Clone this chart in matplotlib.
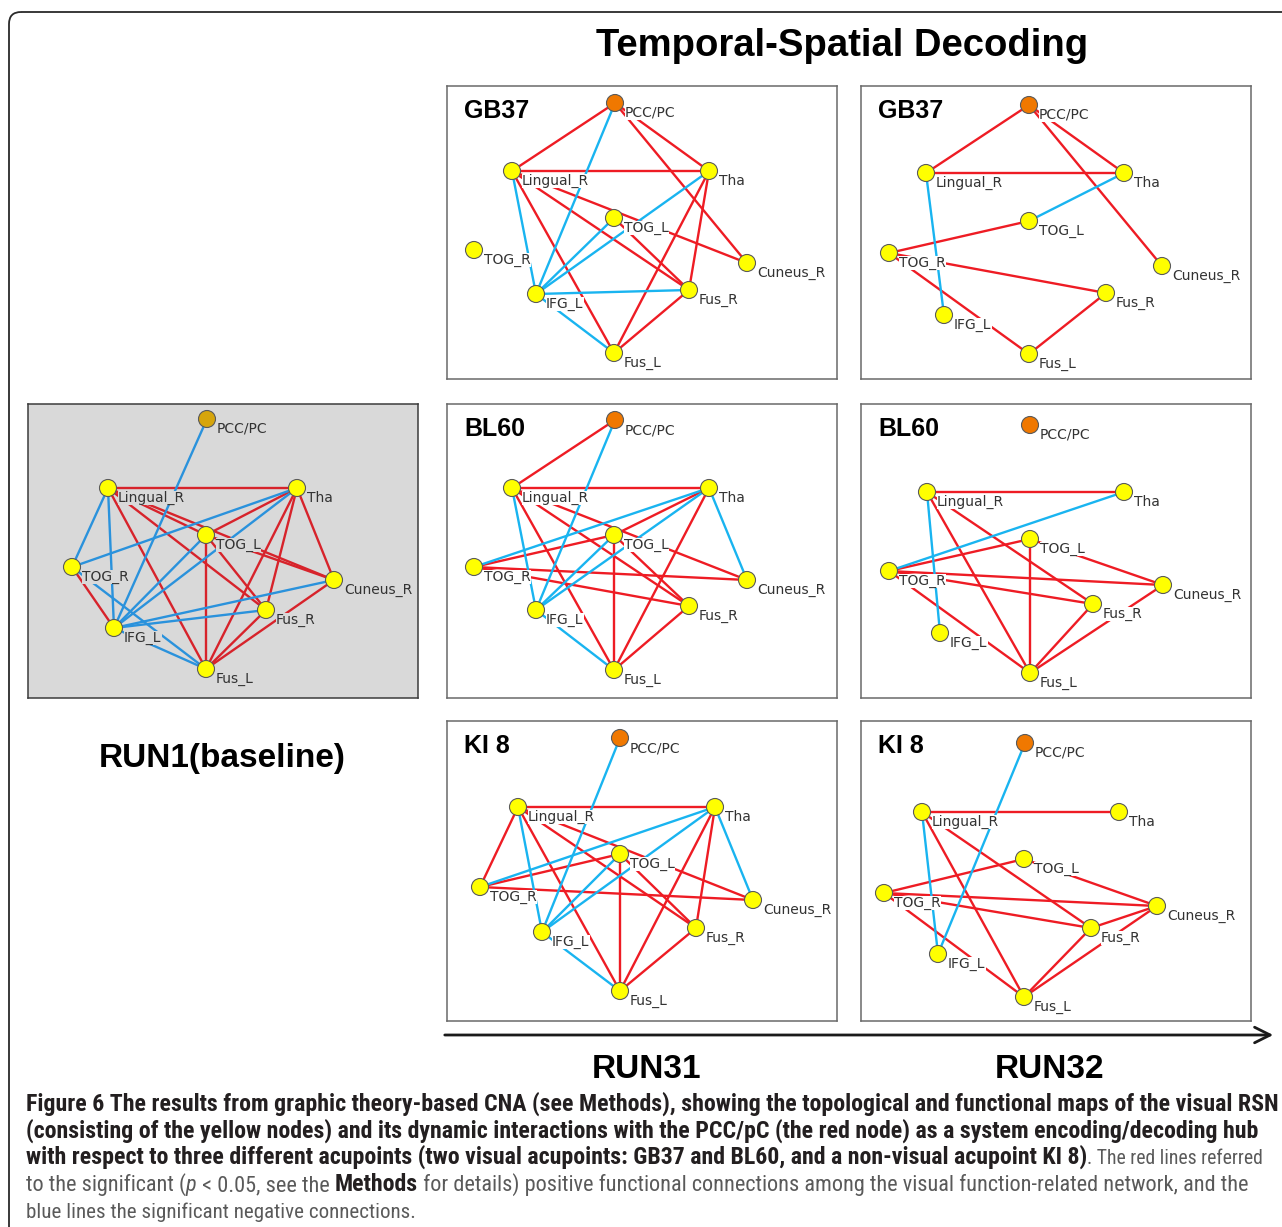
import matplotlib
matplotlib.use("Agg")
import matplotlib.pyplot as plt
from matplotlib import font_manager as fm
from matplotlib.patches import FancyBboxPatch

# ---------------- data ----------------
node_names = ["PCC/PC", "Lingual_R", "Tha", "TOG_L", "TOG_R", "Cuneus_R", "Fus_R", "IFG_L", "Fus_L"]

# node layouts (panel-local pixel coordinates, same order as node_names)
run1_x = [179, 80, 269, 178, 44, 306, 238, 86, 178]
run1_y = [15, 84, 84, 131, 163, 176, 206, 224, 265]
gb37_31_x = [168, 65, 262, 167, 27, 300, 242, 89, 167]
gb37_31_y = [17, 85, 85, 132, 164, 177, 204, 208, 267]
gb37_32_x = [168, 65, 263, 168, 28, 301, 245, 83, 168]
gb37_32_y = [19, 87, 87, 135, 167, 180, 207, 229, 268]
bl60_31_x = [168, 65, 262, 167, 27, 300, 242, 89, 167]
bl60_31_y = [16, 84, 84, 131, 163, 176, 202, 206, 266]
bl60_32_x = [169, 66, 263, 169, 28, 302, 232, 79, 169]
bl60_32_y = [21, 88, 88, 135, 167, 181, 200, 229, 269]
ki8_31_x = [173, 71, 268, 173, 33, 306, 249, 95, 173]
ki8_31_y = [17, 86, 86, 133, 166, 179, 207, 211, 270]
ki8_32_x = [164, 61, 258, 163, 23, 296, 230, 77, 163]
ki8_32_y = [22, 91, 91, 138, 172, 185, 207, 233, 276]

# positive (red) and negative (blue) connections
run1_pos = [("Lingual_R", "Tha"), ("Lingual_R", "Fus_L"), ("Lingual_R", "TOG_L"), ("Lingual_R", "Cuneus_R"),
            ("Lingual_R", "Fus_R"), ("Tha", "TOG_L"), ("Tha", "Fus_L"), ("Tha", "Fus_R"), ("Tha", "Cuneus_R"),
            ("TOG_L", "Fus_L"), ("TOG_L", "Fus_R"), ("TOG_L", "Cuneus_R"), ("TOG_R", "IFG_L"),
            ("Cuneus_R", "Fus_L"), ("Fus_R", "Fus_L")]
run1_neg = [("PCC/PC", "IFG_L"), ("Lingual_R", "TOG_R"), ("Lingual_R", "IFG_L"), ("Tha", "TOG_R"),
            ("Tha", "IFG_L"), ("TOG_L", "IFG_L"), ("TOG_R", "Fus_L"), ("IFG_L", "Fus_L"),
            ("IFG_L", "Cuneus_R"), ("IFG_L", "Fus_R")]
gb37_31_pos = [("PCC/PC", "Lingual_R"), ("PCC/PC", "Tha"), ("PCC/PC", "Cuneus_R"), ("Lingual_R", "Tha"),
               ("Lingual_R", "Fus_L"), ("Lingual_R", "Fus_R"), ("Lingual_R", "Cuneus_R"), ("TOG_L", "Fus_R"),
               ("Tha", "Fus_L"), ("Tha", "Fus_R"), ("Fus_R", "Fus_L")]
gb37_31_neg = [("PCC/PC", "IFG_L"), ("Lingual_R", "IFG_L"), ("Tha", "IFG_L"), ("TOG_L", "IFG_L"),
               ("IFG_L", "Fus_R"), ("IFG_L", "Fus_L")]
gb37_32_pos = [("PCC/PC", "Lingual_R"), ("PCC/PC", "Tha"), ("PCC/PC", "Cuneus_R"), ("Lingual_R", "Tha"),
               ("TOG_L", "TOG_R"), ("TOG_R", "Fus_R"), ("TOG_R", "Fus_L"), ("Fus_R", "Fus_L")]
gb37_32_neg = [("Lingual_R", "IFG_L"), ("Tha", "TOG_L")]
bl60_31_pos = [("PCC/PC", "Lingual_R"), ("Lingual_R", "Tha"), ("Lingual_R", "Fus_L"), ("Lingual_R", "Fus_R"),
               ("Lingual_R", "Cuneus_R"), ("TOG_L", "Fus_R"), ("Tha", "TOG_L"), ("TOG_R", "TOG_L"),
               ("Tha", "Fus_L"), ("TOG_L", "Fus_L"), ("TOG_R", "Cuneus_R"), ("TOG_R", "Fus_R"), ("Fus_R", "Fus_L")]
bl60_31_neg = [("PCC/PC", "IFG_L"), ("Lingual_R", "IFG_L"), ("Tha", "TOG_R"), ("Tha", "IFG_L"),
               ("TOG_L", "IFG_L"), ("Tha", "Cuneus_R"), ("IFG_L", "Fus_L")]
bl60_32_pos = [("Lingual_R", "Tha"), ("Lingual_R", "Fus_L"), ("Lingual_R", "Fus_R"), ("TOG_R", "TOG_L"),
               ("TOG_R", "Cuneus_R"), ("TOG_R", "Fus_R"), ("TOG_R", "Fus_L"), ("TOG_L", "Fus_L"),
               ("TOG_L", "Cuneus_R"), ("Cuneus_R", "Fus_L"), ("Fus_R", "Fus_L")]
bl60_32_neg = [("Lingual_R", "IFG_L"), ("Tha", "TOG_R")]
ki8_31_pos = [("Lingual_R", "Tha"), ("Lingual_R", "TOG_R"), ("Lingual_R", "Fus_L"), ("Lingual_R", "Fus_R"),
              ("Lingual_R", "Cuneus_R"), ("TOG_R", "TOG_L"), ("Tha", "Fus_L"), ("Tha", "Fus_R"),
              ("TOG_L", "Fus_L"), ("TOG_L", "Fus_R"), ("TOG_R", "Cuneus_R"), ("Fus_R", "Fus_L")]
ki8_31_neg = [("PCC/PC", "IFG_L"), ("Lingual_R", "IFG_L"), ("Tha", "TOG_R"), ("Tha", "IFG_L"),
              ("TOG_L", "IFG_L"), ("Tha", "Cuneus_R"), ("IFG_L", "Fus_L")]
ki8_32_pos = [("Lingual_R", "Tha"), ("Lingual_R", "Fus_L"), ("Lingual_R", "Fus_R"), ("TOG_R", "TOG_L"),
              ("TOG_R", "Cuneus_R"), ("TOG_R", "Fus_R"), ("TOG_R", "Fus_L"), ("TOG_L", "Cuneus_R"),
              ("Cuneus_R", "Fus_R"), ("Cuneus_R", "Fus_L"), ("Fus_R", "Fus_L")]
ki8_32_neg = [("PCC/PC", "IFG_L"), ("Lingual_R", "IFG_L")]

panel_titles = ["", "GB37", "GB37", "BL60", "BL60", "KI 8", "KI 8"]
title_text = "Temporal-Spatial Decoding"
run_labels = ["RUN1(baseline)", "RUN31", "RUN32"]

caption_lines = [
    [("Figure 6 The results from graphic theory-based CNA (see Methods), showing the topological and functional maps of the visual RSN", "b")],
    [("(consisting of the yellow nodes) and its dynamic interactions with the PCC/pC (the red node) as a system encoding/decoding hub", "b")],
    [("with respect to three different acupoints (two visual acupoints: GB37 and BL60, and a non-visual acupoint KI 8)", "b"),
     (". The red lines referred", "n")],
    [("to the significant (", "n"), ("p", "i"), (" < 0.05, see the ", "n"), ("Methods", "b"),
     (" for details) positive functional connections among the visual function-related network, and the", "n")],
    [("blue lines the significant negative connections.", "n")],
]
caption_line_ends = [1278, 1258, 1262, 1240, None]

# ---------------- figure ----------------
W, H = 1282, 1227
fig = plt.figure(figsize=(W / 100, H / 100), dpi=100)
fig.patch.set_facecolor("white")
bg = fig.add_axes([0, 0, 1, 1])
bg.set_xlim(0, W)
bg.set_ylim(H, 0)
bg.axis("off")

# outer rounded frame
frame = FancyBboxPatch((9, 12), 1400, 1400, boxstyle="round,pad=0,rounding_size=12",
                       fill=False, edgecolor="#2a2a2a", lw=1.3, clip_on=True)
bg.add_patch(frame)
frame.set_clip_path(bg.patch)

panels = [
    dict(box=(28, 404, 390, 294), x=run1_x, y=run1_y, pos=run1_pos, neg=run1_neg, baseline=True),
    dict(box=(447, 86, 390, 293), x=gb37_31_x, y=gb37_31_y, pos=gb37_31_pos, neg=gb37_31_neg, baseline=False),
    dict(box=(861, 86, 390, 293), x=gb37_32_x, y=gb37_32_y, pos=gb37_32_pos, neg=gb37_32_neg, baseline=False),
    dict(box=(447, 404, 390, 294), x=bl60_31_x, y=bl60_31_y, pos=bl60_31_pos, neg=bl60_31_neg, baseline=False),
    dict(box=(861, 404, 390, 294), x=bl60_32_x, y=bl60_32_y, pos=bl60_32_pos, neg=bl60_32_neg, baseline=False),
    dict(box=(447, 721, 390, 300), x=ki8_31_x, y=ki8_31_y, pos=ki8_31_pos, neg=ki8_31_neg, baseline=False),
    dict(box=(861, 721, 390, 300), x=ki8_32_x, y=ki8_32_y, pos=ki8_32_pos, neg=ki8_32_neg, baseline=False),
]

for p, ptitle in zip(panels, panel_titles):
    ox, oy, w, h = p["box"]
    ax = fig.add_axes([ox / W, 1 - (oy + h) / H, w / W, h / H])
    ax.set_xlim(0, w)
    ax.set_ylim(h, 0)
    ax.set_xticks([])
    ax.set_yticks([])
    base = p["baseline"]
    bgc = "#d9d9d9" if base else "white"
    ax.set_facecolor(bgc)
    for s in ax.spines.values():
        s.set_color("#3c3c3c" if base else "#6a6a6a")
        s.set_linewidth(1.1)
    red = "#d7232b" if base else "#ee1c24"
    blue = "#2a92dc" if base else "#19b4f0"
    idx = {n: i for i, n in enumerate(node_names)}
    for edges, col in ((p["pos"], red), (p["neg"], blue)):
        for a, b in edges:
            ia, ib = idx[a], idx[b]
            ax.plot([p["x"][ia], p["x"][ib]], [p["y"][ia], p["y"][ib]], color=col, lw=1.7,
                    solid_capstyle="butt", zorder=1)
    for i, n in enumerate(node_names):
        ax.text(p["x"][i] + 10, p["y"][i] + 10, n, fontsize=10, family="DejaVu Sans",
                color="#333333", ha="left", va="center", zorder=2,
                bbox=dict(facecolor=bgc, edgecolor="none", pad=0.3))
    colors = [("#d6a50c" if base else "#f07800")] + ["#ffff00"] * (len(node_names) - 1)
    ax.scatter(p["x"], p["y"], s=150, c=colors, edgecolors="#5a5a5a", linewidths=0.8, zorder=3)
    if ptitle:
        ax.text(17, 25, ptitle, fontsize=18, fontweight="bold", family="Liberation Sans",
                ha="left", va="center", color="black")

# title and run labels
bg.text(842, 46, title_text, fontsize=27.5, fontweight="bold", family="Liberation Sans",
        ha="center", va="center", color="black")
for lab, (lx, ly) in zip(run_labels, [(222, 758), (647, 1069), (1050, 1069)]):
    bg.text(lx, ly, lab, fontsize=24, fontweight="bold", family="Liberation Sans",
            ha="center", va="center", color="black")

# time arrow
bg.annotate("", xy=(1276, 1035), xytext=(442, 1035),
            arrowprops=dict(arrowstyle="->", lw=2.0, color="#1a1a1a", mutation_scale=28))

# caption
avail = {f.name for f in fm.fontManager.ttflist}
cap_family = "Liberation Sans"
for cand in ["Liberation Sans Narrow", "Roboto Condensed", "Open Sans Condensed", "Liberation Sans"]:
    if cand in avail:
        cap_family = cand
        break
renderer = fig.canvas.get_renderer()
bold_col, norm_col = "#231f20", "#5a5a5a"


def style_kw(st, size):
    return dict(fontsize=size, family=cap_family,
                fontweight="bold" if st == "b" else "normal",
                fontstyle="italic" if st == "i" else "normal",
                color=bold_col if st == "b" else norm_col)


def seg_width(txt, st, size):
    t1 = bg.text(0, 0, txt + "|", **style_kw(st, size))
    t2 = bg.text(0, 0, "|", **style_kw(st, size))
    wdt = t1.get_window_extent(renderer).width - t2.get_window_extent(renderer).width
    t1.remove()
    t2.remove()
    return wdt


x0 = 26
# bold size fitted to line 1 width
w10 = sum(seg_width(t, s, 10) for t, s in caption_lines[0])
bsize = 10 * (caption_line_ends[0] - x0) / w10
# normal size fitted per mixed line, so each line ends where the reference's does
nsizes = []
for segs, xe in zip(caption_lines, caption_line_ends):
    if xe is None or all(s == "b" for _, s in segs):
        nsizes.append(None)
        continue
    wb = sum(seg_width(t, s, bsize) for t, s in segs if s == "b")
    wn = sum(seg_width(t, s, 10) for t, s in segs if s != "b")
    nsizes.append(10 * (xe - x0 - wb) / wn)
valid = [v for v in nsizes if v]
nsize_default = sum(valid) / len(valid)

baselines = [1111, 1138, 1164, 1191, 1218]
for segs, yb, ns in zip(caption_lines, baselines, nsizes):
    ns = ns or nsize_default
    x = x0
    for txt, st in segs:
        size = bsize if st == "b" else ns
        bg.text(x, yb, txt, ha="left", va="baseline", **style_kw(st, size))
        x += seg_width(txt, st, size)

fig.savefig("out.png", dpi=100, facecolor="white")
